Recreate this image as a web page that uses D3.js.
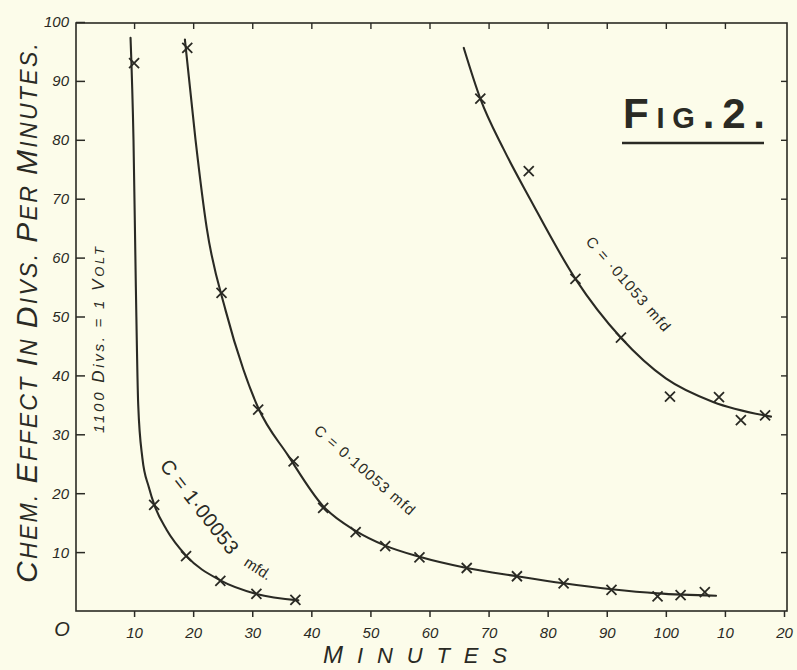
<!DOCTYPE html>
<html>
<head>
<meta charset="utf-8">
<script src="https://cdn.jsdelivr.net/npm/d3@7"></script>
<style>
  html, body { margin: 0; padding: 0; background: #fcfcea; }
  svg { display: block; }
  text { fill: #2a2a24; font-family: "Liberation Sans", "DejaVu Sans", sans-serif; }
</style>
</head>
<body>
<svg id="chart" width="797" height="670"></svg>
<script>
// ---------- data ----------
const xTicks = [10, 20, 30, 40, 50, 60, 70, 80, 90, 100, 110, 120];
const xTickLabels = ["10", "20", "30", "40", "50", "60", "70", "80", "90", "100", "10", "20"];
const yTicks = [10, 20, 30, 40, 50, 60, 70, 80, 90, 100];
const yTickLabels = ["10", "20", "30", "40", "50", "60", "70", "80", "90", "100"];

// C = 1·00053 mfd.  (drawn curve, then plotted observations)
const curveA = [[9.4,97.3],[9.9,80],[10.3,55],[10.7,35],[11.4,26],[12.5,21],[13.5,17.8],[15.5,13.8],[18.8,9.4],[24.6,5.2],[30.7,2.9],[37.8,1.8]];
const pointsA = [[10,93],[13.4,18],[18.8,9.3],[24.6,5.1],[30.7,2.9],[37.3,1.9]];

// C = 0·10053 mfd
const curveB = [[18.6,97],[20.4,80],[22.3,65],[25.5,51],[28.5,41],[31,34.5],[36,26.5],[42,17.8],[47.5,13.6],[52.5,11.1],[58.3,9.2],[66.3,7.3],[74.8,5.9],[82.7,4.7],[90.8,3.7],[98.6,3.0],[108.5,2.6]];
const pointsB = [[19,95.6],[24.8,54],[31,34.2],[37,25.4],[42,17.5],[47.5,13.4],[52.5,11],[58.3,9.1],[66.3,7.3],[74.8,5.9],[82.7,4.7],[90.8,3.6],[98.6,2.5],[102.5,2.7],[106.6,3.2]];

// C = ·01053 mfd
const curveC = [[65.8,95.6],[68.6,87],[72.5,78.5],[77,70],[84.7,56.4],[92.4,46.4],[100,39.5],[108,35.5],[117.8,33]];
const pointsC = [[68.6,87],[76.8,74.7],[84.7,56.4],[92.4,46.4],[100.7,36.4],[109,36.3],[112.7,32.4],[116.8,33.2]];

const curveLabels = ["C = 1·00053", "mfd.", "C = 0·10053 mfd", "C = ·01053 mfd"];
const yTitle = "CHEM. EFFECT IN DIVS. PER MINUTES.";
const xTitle = "MINUTES";
const noteParts = ["1100 ", "D", "ivs. = 1 ", "V", "OLT"];
const figTitle = "FIG.2.";

// ---------- drawing ----------
const ink = "#2a2a24";
const svg = d3.select("#chart");
const x = d3.scaleLinear().domain([0, 120]).range([75, 784]);
const y = d3.scaleLinear().domain([0, 100]).range([611, 22]);

const fLeft = x(0) + 1, fRight = x(120) + 3, fTop = y(100) + 1, fBottom = y(0);

// frame
svg.append("rect")
  .attr("x", fLeft).attr("y", fTop)
  .attr("width", fRight - fLeft).attr("height", fBottom - fTop)
  .attr("fill", "none").attr("stroke", ink).attr("stroke-width", 1.6);

// bottom axis (ticks outward)
const gx = svg.append("g").attr("transform", `translate(0,${fBottom})`)
  .call(d3.axisBottom(x).tickValues(xTicks).tickSize(6).tickFormat((d, i) => xTickLabels[i]));
gx.select(".domain").remove();
gx.selectAll("line").attr("stroke", ink).attr("stroke-width", 1.5);
gx.selectAll("text").attr("dy", "1.2em").style("font-size", "15px").style("font-style", "italic").attr("fill", ink);

// left axis (ticks inward)
const gy = svg.append("g").attr("transform", `translate(${fLeft},0)`)
  .call(d3.axisRight(y).tickValues(yTicks).tickSize(9).tickFormat(() => ""));
gy.select(".domain").remove();
gy.selectAll("line").attr("stroke", ink).attr("stroke-width", 1.5);

svg.append("g").selectAll("text").data(yTicks).join("text")
  .attr("x", 69).attr("y", d => y(d)).attr("dy", "0.36em")
  .attr("text-anchor", "end")
  .style("font-size", "15px").style("font-style", "italic")
  .text((d, i) => yTickLabels[i]);

// origin label
svg.append("text").attr("x", 62).attr("y", fBottom + 25).attr("text-anchor", "middle")
  .style("font-size", "20px").style("font-style", "italic").text("O");

// top ticks (inward)
const gt = svg.append("g").attr("transform", `translate(0,${fTop})`)
  .call(d3.axisBottom(x).tickValues(xTicks.slice(0, 11)).tickSize(6).tickFormat(() => ""));
gt.select(".domain").remove();
gt.selectAll("line").attr("stroke", ink).attr("stroke-width", 1.4);

// right ticks (inward)
const gr = svg.append("g").attr("transform", `translate(${fRight},0)`)
  .call(d3.axisLeft(y).tickValues(yTicks.slice(0, 9)).tickSize(6).tickFormat(() => ""));
gr.select(".domain").remove();
gr.selectAll("line").attr("stroke", ink).attr("stroke-width", 1.4);

// curves
const line = d3.line().x(d => x(d[0])).y(d => y(d[1])).curve(d3.curveMonotoneX);
[curveA, curveB, curveC].forEach(c => {
  svg.append("path").attr("d", line(c)).attr("fill", "none")
    .attr("stroke", ink).attr("stroke-width", 2.1).attr("stroke-linecap", "round");
});

// markers (crosses)
const cross = "M-5,-5L5,5M-5,5L5,-5";
[pointsA, pointsB, pointsC].forEach(pts => {
  svg.append("g").selectAll("path").data(pts).join("path")
    .attr("transform", d => `translate(${x(d[0])},${y(d[1])})`)
    .attr("d", cross).attr("fill", "none").attr("stroke", ink).attr("stroke-width", 1.8);
});

// curve labels
svg.append("text").attr("transform", "translate(159,466) rotate(52)")
  .style("font-size", "20px").attr("textLength", 114).attr("lengthAdjust", "spacing").text(curveLabels[0]);
svg.append("text").attr("transform", "translate(243,565) rotate(33)")
  .style("font-size", "15px").text(curveLabels[1]);
svg.append("text").attr("transform", "translate(313,432) rotate(41)")
  .style("font-size", "15px").attr("textLength", 128).attr("lengthAdjust", "spacing").text(curveLabels[2]);
svg.append("text").attr("transform", "translate(585,242) rotate(49)")
  .style("font-size", "15px").attr("textLength", 120).attr("lengthAdjust", "spacing").text(curveLabels[3]);

// note on left
const note = svg.append("text").attr("transform", "translate(104,433) rotate(-90)")
  .style("font-style", "italic").attr("textLength", 186).attr("lengthAdjust", "spacing");
const noteSizes = [15, 17, 15, 17, 13];
noteParts.forEach((p, i) => note.append("tspan").style("font-size", noteSizes[i] + "px").text(p));

// small caps helper (first letter of each word larger)
function smallCaps(sel, str, big, small) {
  str.split(/(\s+)/).forEach(w => {
    if (!w) return;
    if (/^\s+$/.test(w)) { sel.append("tspan").style("font-size", small + "px").text(w); return; }
    sel.append("tspan").style("font-size", big + "px").text(w[0]);
    if (w.length > 1) sel.append("tspan").style("font-size", small + "px").text(w.slice(1));
  });
}
const yt = svg.append("text").attr("transform", "translate(37,583) rotate(-90)")
  .style("font-style", "italic").attr("textLength", 540).attr("lengthAdjust", "spacing");
smallCaps(yt, yTitle, 30, 23);

// x title
const xt = svg.append("text").attr("x", 323).attr("y", 663)
  .style("font-style", "italic").attr("textLength", 184).attr("lengthAdjust", "spacing");
smallCaps(xt, xTitle, 24, 22);

// Fig. 2 title
const ft = svg.append("text").attr("x", 623).attr("y", 128)
  .style("font-weight", "bold").attr("textLength", 142).attr("lengthAdjust", "spacing");
ft.append("tspan").style("font-size", "42px").text("F");
ft.append("tspan").style("font-size", "29px").text("IG");
ft.append("tspan").style("font-size", "42px").text(".2.");
svg.append("line").attr("x1", 622).attr("x2", 764).attr("y1", 143).attr("y2", 143)
  .attr("stroke", ink).attr("stroke-width", 2.5);
</script>
</body>
</html>
